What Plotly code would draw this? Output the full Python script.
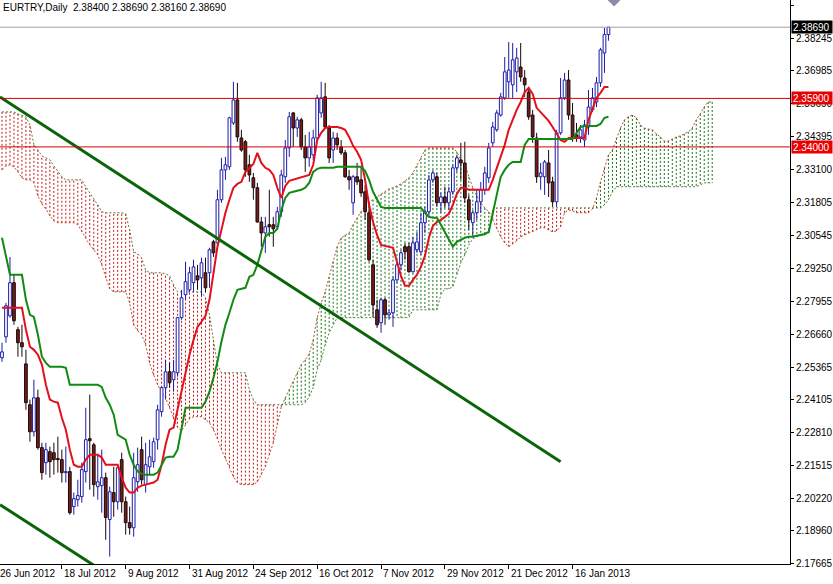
import plotly.graph_objects as go

# ---------------- data ----------------
symbol_title = "EURTRY,Daily"

opens = [2.2574, 2.2656, 2.2738, 2.2868, 2.2684, 2.2633, 2.2550, 2.2390, 2.2284, 2.2417,
         2.2222, 2.2163, 2.2206, 2.2202, 2.2179, 2.2175, 2.2124, 2.2128, 2.1991, 2.2018,
         2.2030, 2.2128, 2.2257, 2.2233, 2.2069, 2.2073, 2.2104, 2.1940, 2.2046, 2.2010,
         2.2175, 2.2010, 2.1928, 2.1908, 2.2088, 2.2214, 2.2077, 2.2147, 2.2167, 2.2253,
         2.2363, 2.2457, 2.2519, 2.2488, 2.2515, 2.2731, 2.2821, 2.2840, 2.2868, 2.2895,
         2.2887, 2.2907, 2.2907, 2.3028, 2.3024, 2.3193, 2.3310, 2.3322, 2.3494, 2.3584,
         2.3435, 2.3420, 2.3330, 2.3279, 2.3240, 2.3106, 2.3063, 2.3095, 2.3095, 2.3087,
         2.3146, 2.3283, 2.3396, 2.3533, 2.3474, 2.3506, 2.3400, 2.3357, 2.3369, 2.3435,
         2.3533, 2.3596, 2.3474, 2.3388, 2.3435, 2.3400, 2.3377, 2.3283, 2.3181, 2.3283,
         2.3271, 2.3224, 2.3142, 2.2938, 2.2762, 2.2711, 2.2801, 2.2742, 2.2750, 2.2879,
         2.2938, 2.3009, 2.3009, 2.2911, 2.2997, 2.2989, 2.3103, 2.3146, 2.3271, 2.3283,
         2.3181, 2.3204, 2.3181, 2.3224, 2.3318, 2.3349, 2.3337, 2.3193, 2.3103, 2.3142,
         2.3185, 2.3232, 2.3279, 2.3416, 2.3467, 2.3525, 2.3592, 2.3655, 2.3643, 2.3694,
         2.3713, 2.3670, 2.3615, 2.3525, 2.3435, 2.3283, 2.3283, 2.3337, 2.3263, 2.3185,
         2.3455, 2.3592, 2.3662, 2.3525, 2.3447, 2.3439, 2.3427, 2.3478, 2.3545, 2.3576,
         2.3651, 2.3768, 2.3840]

highs = [2.2633, 2.2789, 2.2969, 2.2899, 2.2695, 2.2703, 2.2605, 2.2410, 2.2488, 2.2449,
         2.2241, 2.2241, 2.2226, 2.2241, 2.2265, 2.2214, 2.2226, 2.2147, 2.2046, 2.2096,
         2.2163, 2.2378, 2.2429, 2.2241, 2.2194, 2.2214, 2.2124, 2.2069, 2.2147, 2.2147,
         2.2202, 2.2030, 2.1991, 2.2202, 2.2222, 2.2265, 2.2241, 2.2253, 2.2261, 2.2390,
         2.2460, 2.2566, 2.2554, 2.2566, 2.2734, 2.2840, 2.2950, 2.2930, 2.2958, 2.2938,
         2.2966, 2.2966, 2.3005, 2.3036, 2.3232, 2.3357, 2.3361, 2.3518, 2.3655, 2.3651,
         2.3467, 2.3427, 2.3369, 2.3298, 2.3259, 2.3126, 2.3126, 2.3232, 2.3126, 2.3165,
         2.3310, 2.3427, 2.3537, 2.3537, 2.3518, 2.3514, 2.3447, 2.3459, 2.3467, 2.3604,
         2.3655, 2.3651, 2.3486, 2.3459, 2.3455, 2.3427, 2.3388, 2.3310, 2.3290, 2.3337,
         2.3322, 2.3251, 2.3181, 2.2958, 2.2801, 2.2809, 2.2809, 2.2762, 2.2891, 2.2950,
         2.2997, 2.3024, 2.3024, 2.3048, 2.3067, 2.3142, 2.3165, 2.3290, 2.3310, 2.3298,
         2.3220, 2.3244, 2.3244, 2.3330, 2.3369, 2.3416, 2.3420, 2.3212, 2.3153, 2.3232,
         2.3263, 2.3322, 2.3416, 2.3498, 2.3545, 2.3612, 2.3752, 2.3811, 2.3807, 2.3788,
         2.3807, 2.3701, 2.3635, 2.3545, 2.3455, 2.3337, 2.3349, 2.3388, 2.3283, 2.3467,
         2.3670, 2.3690, 2.3701, 2.3572, 2.3494, 2.3486, 2.3506, 2.3623, 2.3631, 2.3674,
         2.3788, 2.3866, 2.3869]

lows = [2.2558, 2.2633, 2.2731, 2.2703, 2.2578, 2.2578, 2.2370, 2.2245, 2.2265, 2.2214,
        2.2096, 2.2116, 2.2104, 2.2116, 2.2124, 2.2085, 2.2085, 2.1959, 2.1959, 2.1991,
        2.2006, 2.2085, 2.2057, 2.2030, 2.2018, 2.1967, 2.1861, 2.1795, 2.1951, 2.1979,
        2.1967, 2.1881, 2.1881, 2.1873, 2.2049, 2.2077, 2.2046, 2.2116, 2.2143, 2.2214,
        2.2343, 2.2410, 2.2457, 2.2441, 2.2500, 2.2723, 2.2801, 2.2832, 2.2832, 2.2840,
        2.2813, 2.2829, 2.2848, 2.2969, 2.3009, 2.3181, 2.3271, 2.3310, 2.3486, 2.3420,
        2.3381, 2.3283, 2.3263, 2.3193, 2.3103, 2.3009, 2.2985, 2.3048, 2.3009, 2.3075,
        2.3126, 2.3259, 2.3361, 2.3400, 2.3439, 2.3388, 2.3302, 2.3322, 2.3349, 2.3420,
        2.3514, 2.3474, 2.3337, 2.3337, 2.3388, 2.3369, 2.3279, 2.3232, 2.3134, 2.3251,
        2.3204, 2.3114, 2.2950, 2.2734, 2.2691, 2.2672, 2.2703, 2.2723, 2.2695, 2.2868,
        2.2918, 2.2958, 2.2907, 2.2907, 2.2985, 2.2977, 2.3063, 2.3126, 2.3259, 2.3165,
        2.3142, 2.3161, 2.3153, 2.3212, 2.3302, 2.3271, 2.3181, 2.3075, 2.3048, 2.3114,
        2.3142, 2.3212, 2.3259, 2.3400, 2.3459, 2.3518, 2.3584, 2.3592, 2.3592, 2.3615,
        2.3655, 2.3596, 2.3506, 2.3416, 2.3259, 2.3232, 2.3212, 2.3204, 2.3165, 2.3165,
        2.3447, 2.3584, 2.3506, 2.3420, 2.3420, 2.3416, 2.3400, 2.3447, 2.3537, 2.3556,
        2.3635, 2.3690, 2.3816]

closes = [2.2597, 2.2778, 2.2868, 2.2719, 2.2633, 2.2617, 2.2398, 2.2284, 2.2417, 2.2222,
          2.2124, 2.2214, 2.2167, 2.2175, 2.2175, 2.2124, 2.2128, 2.1967, 2.2022, 2.2034,
          2.2136, 2.2253, 2.2249, 2.2077, 2.2088, 2.2104, 2.1948, 2.2049, 2.2010, 2.2143,
          2.2010, 2.1928, 2.1908, 2.2104, 2.2155, 2.2096, 2.2155, 2.2186, 2.2245, 2.2370,
          2.2457, 2.2519, 2.2476, 2.2519, 2.2731, 2.2809, 2.2872, 2.2907, 2.2930, 2.2879,
          2.2946, 2.2848, 2.2997, 2.2985, 2.3193, 2.3310, 2.3330, 2.3514, 2.3584, 2.3439,
          2.3388, 2.3310, 2.3290, 2.3240, 2.3106, 2.3063, 2.3087, 2.3087, 2.3079, 2.3146,
          2.3290, 2.3396, 2.3518, 2.3474, 2.3506, 2.3400, 2.3357, 2.3400, 2.3435, 2.3592,
          2.3592, 2.3478, 2.3357, 2.3435, 2.3408, 2.3377, 2.3283, 2.3271, 2.3283, 2.3263,
          2.3220, 2.3146, 2.2958, 2.2781, 2.2703, 2.2801, 2.2742, 2.2750, 2.2879, 2.2938,
          2.2985, 2.2989, 2.2911, 2.3024, 2.3028, 2.3103, 2.3146, 2.3271, 2.3298, 2.3181,
          2.3204, 2.3181, 2.3224, 2.3318, 2.3357, 2.3337, 2.3200, 2.3114, 2.3142, 2.3185,
          2.3232, 2.3298, 2.3396, 2.3478, 2.3533, 2.3596, 2.3694, 2.3701, 2.3741, 2.3748,
          2.3674, 2.3643, 2.3518, 2.3439, 2.3283, 2.3298, 2.3341, 2.3259, 2.3185, 2.3455,
          2.3592, 2.3662, 2.3525, 2.3439, 2.3435, 2.3467, 2.3486, 2.3556, 2.3592, 2.3651,
          2.3780, 2.3840, 2.3869]

tenkan = ([2.2770] * 6 +
          [2.2684, 2.2617, 2.2605, 2.2586, 2.2547, 2.2468, 2.2410, 2.2402, 2.2398, 2.2339,
           2.2292, 2.2214, 2.2155, 2.2147, 2.2147, 2.2175, 2.2194, 2.2194, 2.2194, 2.2183,
           2.2155, 2.2155, 2.2155, 2.2155, 2.2104, 2.2065, 2.2046, 2.2046, 2.2065, 2.2073,
           2.2077, 2.2081, 2.2085, 2.2096, 2.2155, 2.2233, 2.2292, 2.2300, 2.2370, 2.2437,
           2.2519, 2.2586, 2.2644, 2.2695, 2.2715, 2.2738, 2.2801, 2.2907, 2.3009, 2.3075,
           2.3142, 2.3193, 2.3240, 2.3255, 2.3263, 2.3302, 2.3318, 2.3333, 2.3377, 2.3337,
           2.3318, 2.3310, 2.3290, 2.3240, 2.3200, 2.3247, 2.3267, 2.3271, 2.3275, 2.3279,
           2.3283, 2.3290, 2.3330, 2.3427, 2.3455, 2.3474, 2.3478, 2.3478, 2.3478, 2.3474,
           2.3467, 2.3439, 2.3404, 2.3381, 2.3349, 2.3271, 2.3173, 2.3106, 2.3055, 2.3016,
           2.3012, 2.3009, 2.3005, 2.2950, 2.2895, 2.2856, 2.2856, 2.2879, 2.2899, 2.2930,
           2.2973, 2.3044, 2.3091, 2.3106, 2.3114, 2.3126, 2.3138, 2.3173, 2.3216, 2.3240,
           2.3240] +
          [2.3232] * 6 +
          [2.3271, 2.3318, 2.3361, 2.3408, 2.3467, 2.3506, 2.3545, 2.3576, 2.3615, 2.3631,
           2.3608, 2.3553, 2.3537, 2.3521, 2.3502, 2.3478, 2.3451, 2.3427, 2.3420] +
          [2.3435] * 5 +
          [2.3506, 2.3553, 2.3592, 2.3612, 2.3635, 2.3635])

kijun = ([2.3044, 2.2969] + [2.2899] * 4 +
         [2.2801, 2.2742, 2.2734, 2.2664, 2.2578, 2.2554] + [2.2539] * 4 + [2.2535] +
         [2.2468] * 8 +
         [2.2460, 2.2417, 2.2390, 2.2351, 2.2272, 2.2261, 2.2253, 2.2194, 2.2155, 2.2128,
          2.2120] + [2.2116] * 3 + [2.2124, 2.2155, 2.2183, 2.2186, 2.2186, 2.2214, 2.2300] +
         [2.2378] * 5 +
         [2.2402, 2.2441, 2.2496, 2.2558, 2.2637, 2.2703, 2.2750, 2.2801, 2.2840, 2.2844,
          2.2848, 2.2891, 2.2899, 2.2938, 2.2997, 2.3048, 2.3063, 2.3063, 2.3079, 2.3153,
          2.3200, 2.3220, 2.3224, 2.3228, 2.3232, 2.3240, 2.3259, 2.3302, 2.3314] +
         [2.3318] * 4 + [2.3322] * 7 +
         [2.3306, 2.3271, 2.3224, 2.3193, 2.3165] + [2.3161] * 10 +
         [2.3142, 2.3126, 2.3122, 2.3122, 2.3095, 2.3067, 2.3036, 2.3009, 2.3028, 2.3036,
          2.3044, 2.3048, 2.3048, 2.3052, 2.3055, 2.3059, 2.3067, 2.3134, 2.3212, 2.3283,
          2.3310, 2.3330, 2.3341, 2.3341, 2.3341, 2.3408] +
         [2.3431] * 12 +
         [2.3455, 2.3478] + [2.3482] * 4 + [2.3490, 2.3514, 2.3518])

span_a = ([2.3310, 2.3326, 2.3330, 2.3322, 2.3302, 2.3279, 2.3271, 2.3271, 2.3259, 2.3208,
           2.3177, 2.3157, 2.3130, 2.3110] + [2.3103] * 5 +
          [2.3095, 2.3067, 2.3044, 2.3016, 2.2997, 2.2977, 2.2938, 2.2887, 2.2844] +
          [2.2832] * 4 +
          [2.2789, 2.2703, 2.2680, 2.2664, 2.2625, 2.2554, 2.2507, 2.2468, 2.2441, 2.2417,
           2.2378, 2.2335, 2.2300, 2.2288, 2.2312, 2.2335, 2.2343, 2.2343, 2.2343, 2.2331,
           2.2320, 2.2292, 2.2257, 2.2214, 2.2179, 2.2147, 2.2108, 2.2085] +
          [2.2077] * 4 +
          [2.2088, 2.2116, 2.2147, 2.2194, 2.2241, 2.2312, 2.2382, 2.2417, 2.2449, 2.2480,
           2.2515, 2.2547, 2.2566, 2.2590, 2.2644, 2.2731, 2.2789, 2.2832, 2.2891, 2.2950,
           2.3009, 2.3044, 2.3055, 2.3063, 2.3095, 2.3122, 2.3146, 2.3169, 2.3185, 2.3193,
           2.3204, 2.3216, 2.3224, 2.3236, 2.3240, 2.3247, 2.3255, 2.3267, 2.3279, 2.3298,
           2.3326, 2.3357, 2.3388] +
          [2.3396] * 7 +
          [2.3381, 2.3349, 2.3330, 2.3283, 2.3240, 2.3208, 2.3181, 2.3161, 2.3146, 2.3114,
           2.3079, 2.3048, 2.3024, 2.3009, 2.3020, 2.3032, 2.3048, 2.3055, 2.3063, 2.3067,
           2.3075, 2.3083, 2.3083, 2.3075, 2.3067, 2.3071, 2.3087, 2.3142, 2.3153, 2.3150] +
          [2.3142] * 4 +
          [2.3157, 2.3200, 2.3263, 2.3318, 2.3369, 2.3388, 2.3435, 2.3474, 2.3506, 2.3518,
           2.3525, 2.3514, 2.3486, 2.3474, 2.3470, 2.3467, 2.3451, 2.3439, 2.3423, 2.3423,
           2.3431, 2.3439, 2.3443, 2.3451, 2.3459, 2.3474, 2.3506, 2.3529, 2.3556, 2.3576,
           2.3576])

span_b = ([2.3537] * 4 +
          [2.3529, 2.3525, 2.3518, 2.3486, 2.3408, 2.3388, 2.3365, 2.3357, 2.3349, 2.3326,
           2.3302, 2.3283] + [2.3271] * 5 +
          [2.3244, 2.3220, 2.3200, 2.3173, 2.3146] + [2.3142] * 5 +
          [2.3138, 2.3075, 2.2989, 2.2981, 2.2965, 2.2918] + [2.2907] * 4 +
          [2.2903, 2.2895, 2.2860] + [2.2832] * 7 +
          [2.2809, 2.2742, 2.2644, 2.2547] + [2.2515] * 7 +
          [2.2449, 2.2410] + [2.2390] * 12 +
          [2.2398, 2.2421, 2.2457, 2.2527, 2.2566, 2.2625, 2.2672, 2.2703] + [2.2731] * 19 +
          [2.2762] * 7 +
          [2.2821, 2.2844, 2.2844, 2.2852, 2.2899, 2.2946, 2.2977, 2.3016, 2.3040, 2.3048,
           2.3052, 2.3055, 2.3063, 2.3153] + [2.3161] * 27 +
          [2.3173, 2.3193, 2.3224] + [2.3244] * 21 + [2.3251] + [2.3259] * 3)

date_labels = ["26 Jun 2012", "18 Jul 2012", "9 Aug 2012", "31 Aug 2012", "24 Sep 2012",
               "16 Oct 2012", "7 Nov 2012", "29 Nov 2012", "21 Dec 2012", "16 Jan 2013"]
date_label_bars = [-1, 15, 31, 47, 63, 79, 95, 111, 127, 143]

price_ticks = [2.39540, 2.38245, 2.36985, 2.35690, 2.34395, 2.33100, 2.31805, 2.30545,
               2.29250, 2.27955, 2.26660, 2.25365, 2.24105, 2.22810, 2.21515, 2.20220,
               2.18960, 2.17665]

level_lines = [2.35900, 2.34000]
last_price = 2.38690

trend1_bars = [-0.5, 140.0]
trend1_prices = [2.35958, 2.21668]
trend2_bars = [-0.5, 24.5]
trend2_prices = [2.19985, 2.17460]

# ---------------- styling ----------------
FONT = "Liberation Sans, Arial, sans-serif"
FS = 10
BULL = "#1C1CA8"
BEAR_FILL = "#7A1C1C"
BEAR_LINE = "#150808"
X_RANGE = [-0.5, 197.5]
Y_RANGE = [2.1766, 2.39755]

fig = go.Figure()

# ---- Ichimoku cloud hatching ----
hx_r, hy_r, hx_g, hy_g = [], [], [], []
for i, (a, b) in enumerate(zip(span_a, span_b)):
    if a >= b:
        hx_g += [i, i, None]
        hy_g += [a, b, None]
    else:
        hx_r += [i, i, None]
        hy_r += [a, b, None]
fig.add_trace(go.Scatter(x=hx_r, y=hy_r, mode="lines", hoverinfo="skip",
                         line=dict(color="#C41414", width=1, dash="2px,2px")))
fig.add_trace(go.Scatter(x=hx_g, y=hy_g, mode="lines", hoverinfo="skip",
                         line=dict(color="#147214", width=1, dash="2px,2px")))
cloud_x = list(range(len(span_a)))
fig.add_trace(go.Scatter(x=cloud_x, y=span_a, mode="lines", hoverinfo="skip",
                         line=dict(color="#B4502A", width=1, dash="2px,2px")))
fig.add_trace(go.Scatter(x=cloud_x, y=span_b, mode="lines", hoverinfo="skip",
                         line=dict(color="#557A35", width=1, dash="2px,2px")))

# ---- candles ----
hw = 0.34
wx_u, wy_u, wx_d, wy_d = [], [], [], []
bx_u, by_u, bx_d, by_d = [], [], [], []
for i, (o, h, l, c) in enumerate(zip(opens, highs, lows, closes)):
    if c >= o:
        wx_u += [i, i, None]
        wy_u += [l, h, None]
        bx_u += [i - hw, i + hw, i + hw, i - hw, i - hw, None]
        by_u += [o, o, c, c, o, None]
    else:
        wx_d += [i, i, None]
        wy_d += [l, h, None]
        bx_d += [i - hw, i + hw, i + hw, i - hw, i - hw, None]
        by_d += [o, o, c, c, o, None]

fig.add_trace(go.Scatter(x=wx_u, y=wy_u, mode="lines", hoverinfo="skip",
                         line=dict(color=BULL, width=1)))
fig.add_trace(go.Scatter(x=wx_d, y=wy_d, mode="lines", hoverinfo="skip",
                         line=dict(color=BEAR_LINE, width=1)))
fig.add_trace(go.Scatter(x=bx_u, y=by_u, mode="lines", fill="toself", fillcolor="white",
                         hoverinfo="skip", line=dict(color=BULL, width=1)))
fig.add_trace(go.Scatter(x=bx_d, y=by_d, mode="lines", fill="toself", fillcolor=BEAR_FILL,
                         hoverinfo="skip", line=dict(color=BEAR_LINE, width=1)))

# ---- Tenkan / Kijun ----
bars = list(range(len(closes)))
fig.add_trace(go.Scatter(x=bars, y=tenkan, mode="lines", hoverinfo="skip",
                         line=dict(color="#E3101C", width=2)))
fig.add_trace(go.Scatter(x=bars, y=kijun, mode="lines", hoverinfo="skip",
                         line=dict(color="#118A11", width=2)))

# ---- trend lines ----
fig.add_trace(go.Scatter(x=trend1_bars, y=trend1_prices, mode="lines", hoverinfo="skip",
                         line=dict(color="#0A640A", width=3)))
fig.add_trace(go.Scatter(x=trend2_bars, y=trend2_prices, mode="lines", hoverinfo="skip",
                         line=dict(color="#0A640A", width=3)))

# ---- chart-shift marker ----
fig.add_trace(go.Scatter(x=[len(closes) + 0.4], y=[Y_RANGE[1]], mode="markers",
                         cliponaxis=False, hoverinfo="skip",
                         marker=dict(symbol="diamond", size=10, color="#8C8CA6")))

# ---- horizontal lines ----
shapes = [dict(type="line", xref="paper", x0=0, x1=1, yref="y", y0=last_price, y1=last_price,
               line=dict(color="#A0A0A0", width=1), layer="above")]
for lv in level_lines:
    shapes.append(dict(type="line", xref="paper", x0=0, x1=1, yref="y", y0=lv, y1=lv,
                       line=dict(color="#D40000", width=1), layer="above"))

# ---- annotations ----
ann = []
ann.append(dict(xref="paper", yref="paper", x=0, y=1, xanchor="left", yanchor="top",
                xshift=1, yshift=0, showarrow=False,
                text=f"{symbol_title}  {opens[-1]:.5f} {highs[-1]:.5f} {lows[-1]:.5f} {closes[-1]:.5f}",
                font=dict(family=FONT, size=FS, color="black")))
x_span = X_RANGE[1] - X_RANGE[0]
for lbl, b in zip(date_labels, date_label_bars):
    ann.append(dict(xref="paper", yref="paper", x=(b - X_RANGE[0]) / x_span, y=0,
                    xanchor="left", yanchor="top", xshift=0, yshift=-2, showarrow=False,
                    text=lbl, font=dict(family=FONT, size=FS, color="black")))
for val, bg in [(last_price, "black")] + [(lv, "#E80000") for lv in level_lines]:
    ann.append(dict(xref="paper", yref="y", x=1, y=val, xanchor="left", yanchor="middle",
                    xshift=1, showarrow=False, text=f"{val:.5f}", bgcolor=bg,
                    width=38, height=10, borderpad=1, align="left",
                    font=dict(family=FONT, size=FS, color="white")))

fig.update_layout(
    width=833, height=584,
    margin=dict(l=0, r=41, t=0, b=20),
    paper_bgcolor="white", plot_bgcolor="white",
    showlegend=False, hovermode=False,
    shapes=shapes, annotations=ann,
    xaxis=dict(range=X_RANGE, showgrid=False, zeroline=False, showline=True,
               linecolor="black", linewidth=1, ticks="outside", ticklen=4,
               tickcolor="black", tickvals=date_label_bars, showticklabels=False,
               fixedrange=True),
    yaxis=dict(range=Y_RANGE, side="right", showgrid=False, zeroline=False,
               showline=True, linecolor="black", linewidth=1, ticks="outside",
               ticklen=3, tickcolor="black", tickvals=price_ticks,
               ticktext=[f"{p:.5f}" for p in price_ticks],
               tickfont=dict(family=FONT, size=FS, color="black"), fixedrange=True),
)

fig.write_html("out.html",
               config={"displayModeBar": False},
               post_script="document.body.style.margin='0';document.body.style.padding='0';"
                           "document.documentElement.style.margin='0';")
